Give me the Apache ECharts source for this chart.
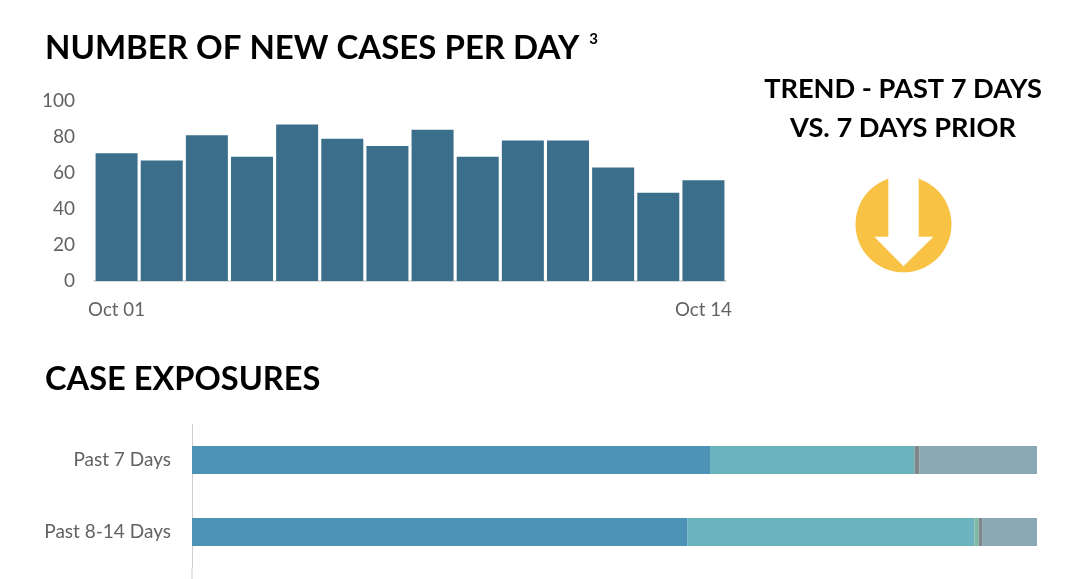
<!DOCTYPE html>
<html>
<head>
<meta charset="utf-8">
<style>html,body{margin:0;padding:0;background:#fff}#c{width:1080px;height:579px}</style>
<script src="https://cdn.jsdelivr.net/npm/echarts@6/dist/echarts.min.js"></script>
</head>
<body>
<div id="c"></div>
<script>
// Daily new cases
const days = ['Oct 01','Oct 02','Oct 03','Oct 04','Oct 05','Oct 06','Oct 07','Oct 08','Oct 09','Oct 10','Oct 11','Oct 12','Oct 13','Oct 14'];
const newCases = [71,67,81,69,87,79,75,84,69,78,78,63,49,56];
const caseTicks = [0,20,40,60,80,100];

// Exposure shares, percent of cases in each period
const periods = ['Past 7 Days','Past 8-14 Days'];
const exposureA = [61.3,58.6];
const exposureB = [24.2,34.0];
const exposureC = [0,0.5];
const exposureD = [0.6,0.4];
const exposureE = [13.9,6.5];

const FONT = 'Lato, "Open Sans", sans-serif';
const GREY = '#626262';
const chart = echarts.init(document.getElementById('c'), null, {renderer:'canvas'});

const stack = (data, color) => ({
  type:'bar', stack:'exposure', xAxisIndex:1, yAxisIndex:1,
  data, barWidth:28, itemStyle:{color}, silent:true
});
const heading = (text, left, top, size) => ({
  text, left, top, padding:0,
  textStyle:{fontFamily:FONT, fontWeight:'bold', fontSize:size, color:'#000',
    rich:{sup:{fontFamily:FONT, fontWeight:'bold', fontSize:15, color:'#000', verticalAlign:'top', padding:[0,0,4,2]}}}
});

chart.setOption({
  animation:false,
  backgroundColor:'#fff',
  title:[
    heading('NUMBER OF NEW CASES PER DAY {sup|3}', 45, 32, 33),
    heading('CASE EXPOSURES', 45, 363, 32.6),
    {text:'TREND - PAST 7 DAYS', left:903, top:76, padding:0, textAlign:'center',
     textStyle:{fontFamily:FONT, fontWeight:'bold', fontSize:27.2, color:'#000'}},
    {text:'VS. 7 DAYS PRIOR', left:903, top:115, padding:0, textAlign:'center',
     textStyle:{fontFamily:FONT, fontWeight:'bold', fontSize:27.2, color:'#000'}}
  ],
  grid:[
    {left:94, top:101, width:632, height:180},
    {left:192, top:424, width:845, height:144}
  ],
  xAxis:[
    {type:'category', gridIndex:0, data:days,
     axisLine:{lineStyle:{color:'#d9d9d9', width:2}}, axisTick:{show:false},
     axisLabel:{color:GREY, fontFamily:FONT, fontSize:18.7, margin:19,
       interval:(i)=> i===0 || i===days.length-1}},
    {type:'value', gridIndex:1, min:0, max:100, show:false}
  ],
  yAxis:[
    {type:'value', gridIndex:0, min:0, max:100, interval:20,
     axisLine:{show:false}, axisTick:{show:false}, splitLine:{show:false},
     axisLabel:{color:GREY, fontFamily:FONT, fontSize:19, margin:19, padding:[5,0,0,0],
       customValues:caseTicks}},
    {type:'category', gridIndex:1, data:periods, inverse:true,
     axisLine:{lineStyle:{color:'#cfcfcf', width:1}}, axisTick:{show:false},
     axisLabel:{color:GREY, fontFamily:FONT, fontSize:19, margin:21, padding:[4,0,0,0]}}
  ],
  series:[
    {type:'bar', xAxisIndex:0, yAxisIndex:0, data:newCases, barWidth:42,
     itemStyle:{color:'#3a6e8b'}, silent:true},
    stack(exposureA,'#4d93b8'),
    stack(exposureB,'#6db3bd'),
    stack(exposureC,'#80b8a6'),
    stack(exposureD,'#7d898d'),
    stack(exposureE,'#8aa9b4')
  ],
  graphic:[
    // axis rule runs on past the last band to the page edge
    {type:'line', shape:{x1:192, y1:568, x2:192, y2:579}, style:{stroke:'#cfcfcf', lineWidth:1}, silent:true},
    // trend badge: falling arrow knocked out of a yellow disc
    {type:'circle', shape:{cx:903.5, cy:224.3, r:48}, style:{fill:'#f8c244'}, silent:true},
    {type:'polygon', silent:true, style:{fill:'#fff'},
     shape:{points:[[888.3,170],[918.7,170],[918.7,236.7],[933.3,236.7],[903.5,266.3],[874.3,236.7],[888.3,236.7]]}}
  ]
});
</script>
</body>
</html>
